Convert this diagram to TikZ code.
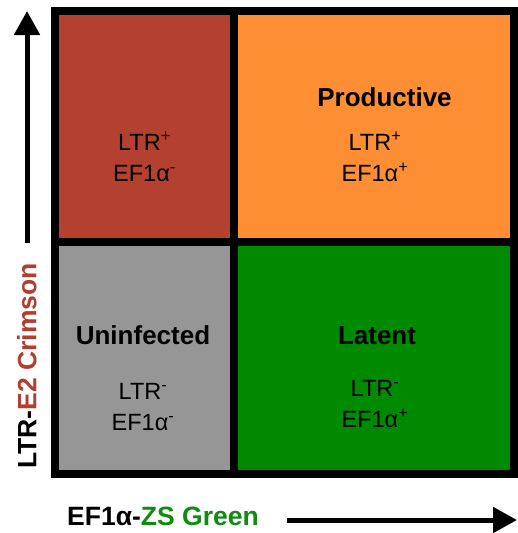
\documentclass[tikz,border=0pt]{standalone}
\usepackage{fontspec}
\setmainfont{Liberation Sans}
\usetikzlibrary{arrows.meta}

\definecolor{crimsonq}{RGB}{180,64,48}
\definecolor{orangeq}{RGB}{253,142,52}
\definecolor{grayq}{RGB}{150,150,150}
\definecolor{greenq}{RGB}{0,138,0}
\definecolor{crimsontext}{RGB}{178,62,46}
\definecolor{greentext}{RGB}{14,140,14}

\tikzset{
  quad/.style={draw=black, line width=8pt},
  state/.style={font=\fontsize{26}{30}\selectfont\bfseries},
  marker/.style={font=\fontsize{23.5}{31}\selectfont, align=center},
  axislabel/.style={font=\fontsize{26.5}{30}\selectfont\bfseries},
  axisarrow/.style={line width=5pt, -{Triangle[length=24pt,width=25pt]}}
}

\begin{document}
\begin{tikzpicture}[x=1pt,y=-1pt]
    \useasboundingbox (0,0) rectangle (517,533);

    % Quadrants
    \draw[quad, fill=crimsonq] (55,11) rectangle (234,242);
    \draw[quad, fill=orangeq] (234,11) rectangle (513.5,242);
    \draw[quad, fill=grayq] (55,242) rectangle (234,474);
    \draw[quad, fill=greenq] (234,242) rectangle (513.5,474);

    % Upper left: LTR+ EF1a-
    \node[marker] (ul) at (144.5,157) {LTR\textsuperscript{+}\\EF1α\textsuperscript{-}};

    % Upper right: productive
    \node[state] (prod) at (384.5,97) {Productive};
    \node[marker] (ur) at (375,157) {LTR\textsuperscript{+}\\EF1α\textsuperscript{+}};

    % Lower left: uninfected
    \node[state] (uninf) at (143,335) {Uninfected};
    \node[marker] (ll) at (143,407) {LTR\textsuperscript{-}\\EF1α\textsuperscript{-}};

    % Lower right: latent
    \node[state] (lat) at (377,336) {Latent};
    \node[marker] (lr) at (375,404) {LTR\textsuperscript{-}\\EF1α\textsuperscript{+}};

    % Vertical axis
    \coordinate (ybase) at (27,243);
    \coordinate (ytip) at (27,11);
    \draw[axisarrow] (ybase) -- (ytip);
    \node[axislabel, rotate=90] (ylab) at (27,366) {LTR-\textcolor{crimsontext}{E2 Crimson}};

    % Horizontal axis
    \coordinate (xbase) at (287,520);
    \coordinate (xtip) at (517,520);
    \draw[axisarrow] (xbase) -- (xtip);
    \node[axislabel] (xlab) at (163,516) {EF1α-\textcolor{greentext}{ZS Green}};
\end{tikzpicture}
\end{document}
